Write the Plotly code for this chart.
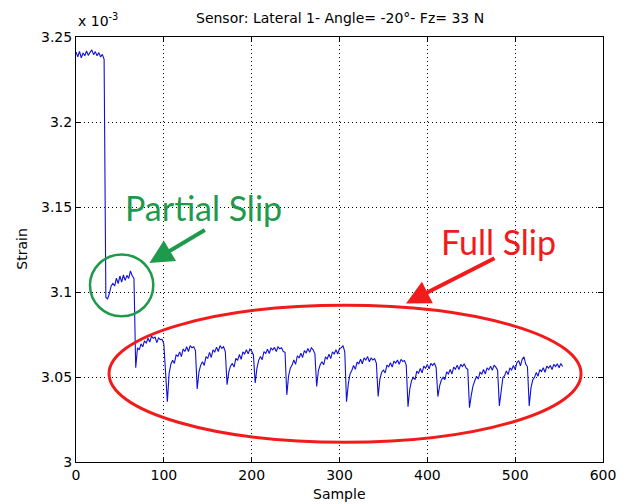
import plotly.graph_objects as go

# ---- data (strain in units of 1e-3) ----
segment_start = [0, 34, 68, 104, 138, 172, 204, 240, 274, 308, 344, 378, 412, 448, 482, 516]
sample_step = 2

strain_hold = [3.2412, 3.2384, 3.2415, 3.2378, 3.2406, 3.2390, 3.2418, 3.2392, 3.2410,
               3.2424, 3.2396, 3.2414, 3.2390, 3.2408, 3.2382, 3.2398, 3.2368]
strain_partial = [3.0968, 3.0960, 3.0990, 3.1036, 3.1050, 3.1035, 3.1082, 3.1050, 3.1094,
                  3.1058, 3.1100, 3.1068, 3.1098, 3.1080, 3.1124, 3.1096, 3.1080]
strain_c1 = [3.0555, 3.0672, 3.0660, 3.0695, 3.0678, 3.0712, 3.0700, 3.0728, 3.0706,
             3.0740, 3.0728, 3.0735, 3.0702, 3.0730, 3.0720, 3.0722, 3.0695, 3.0530]
strain_c2 = [3.0355, 3.0520, 3.0575, 3.0598, 3.0580, 3.0630, 3.0622, 3.0648, 3.0620,
             3.0665, 3.0650, 3.0678, 3.0650, 3.0684, 3.0672, 3.0678, 3.0655]
strain_c3 = [3.0430, 3.0530, 3.0570, 3.0590, 3.0568, 3.0620, 3.0610, 3.0645, 3.0615,
             3.0660, 3.0648, 3.0676, 3.0650, 3.0685, 3.0668, 3.0678, 3.0650]
strain_c4 = [3.0455, 3.0530, 3.0565, 3.0580, 3.0558, 3.0610, 3.0598, 3.0632, 3.0604,
             3.0648, 3.0636, 3.0660, 3.0636, 3.0664, 3.0652, 3.0630]
strain_c5 = [3.0465, 3.0552, 3.0598, 3.0620, 3.0602, 3.0650, 3.0638, 3.0664, 3.0638,
             3.0670, 3.0660, 3.0674, 3.0650, 3.0678, 3.0666, 3.0672, 3.0650, 3.0645]
strain_c6 = [3.0395, 3.0505, 3.0552, 3.0570, 3.0600, 3.0574, 3.0625, 3.0612, 3.0640,
             3.0615, 3.0655, 3.0642, 3.0668, 3.0645, 3.0672, 3.0660, 3.0636]
strain_c7 = [3.0445, 3.0538, 3.0572, 3.0590, 3.0572, 3.0618, 3.0606, 3.0634, 3.0608,
             3.0648, 3.0636, 3.0660, 3.0635, 3.0668, 3.0672, 3.0685, 3.0648]
strain_c8 = [3.0355, 3.0458, 3.0518, 3.0538, 3.0568, 3.0545, 3.0588, 3.0578, 3.0604,
             3.0578, 3.0612, 3.0600, 3.0620, 3.0590, 3.0612, 3.0600, 3.0608, 3.0580]
strain_c9 = [3.0385, 3.0488, 3.0528, 3.0540, 3.0524, 3.0570, 3.0560, 3.0584, 3.0558,
             3.0594, 3.0582, 3.0600, 3.0574, 3.0604, 3.0592, 3.0596, 3.0570]
strain_c10 = [3.0325, 3.0428, 3.0478, 3.0498, 3.0484, 3.0534, 3.0522, 3.0550, 3.0524,
              3.0564, 3.0552, 3.0574, 3.0548, 3.0580, 3.0568, 3.0582, 3.0556]
strain_c11 = [3.0385, 3.0448, 3.0482, 3.0498, 3.0484, 3.0530, 3.0518, 3.0544, 3.0518,
              3.0558, 3.0546, 3.0570, 3.0544, 3.0574, 3.0562, 3.0578, 3.0554, 3.0545]
strain_c12 = [3.0320, 3.0392, 3.0448, 3.0478, 3.0504, 3.0488, 3.0528, 3.0518, 3.0544,
              3.0518, 3.0554, 3.0542, 3.0564, 3.0540, 3.0570, 3.0558, 3.0540]
strain_c13 = [3.0330, 3.0428, 3.0496, 3.0508, 3.0536, 3.0514, 3.0554, 3.0542, 3.0568,
              3.0544, 3.0584, 3.0596, 3.0566, 3.0604, 3.0618, 3.0576, 3.0560]
strain_c14 = [3.0330, 3.0436, 3.0482, 3.0498, 3.0526, 3.0504, 3.0544, 3.0532, 3.0554,
              3.0528, 3.0564, 3.0552, 3.0568, 3.0544, 3.0574, 3.0562, 3.0578, 3.0554,
              3.0580, 3.0562]

segments = [strain_hold, strain_partial, strain_c1, strain_c2, strain_c3, strain_c4,
            strain_c5, strain_c6, strain_c7, strain_c8, strain_c9, strain_c10,
            strain_c11, strain_c12, strain_c13, strain_c14]

x_ticks = [0, 100, 200, 300, 400, 500, 600]
y_ticks = [3.0, 3.05, 3.1, 3.15, 3.2, 3.25]
y_ticktext = ["3", "3.05", "3.1", "3.15", "3.2", "3.25"]

title_text = "Sensor: Lateral 1- Angle= -20°- Fz= 33 N"

sample, strain = [], []
for s0, vals in zip(segment_start, segments):
    for i, v in enumerate(vals):
        sample.append(s0 + sample_step * i)
        strain.append(v)

GREEN = "#1f9a4c"
RED = "#f21b1b"
FONT = "DejaVu Sans"

fig = go.Figure()
fig.add_trace(go.Scatter(x=sample, y=strain, mode="lines",
                         line=dict(color="#1010d8", width=1.1), showlegend=False,
                         hoverinfo="skip"))

axis_common = dict(showline=True, linecolor="black", linewidth=1, mirror="ticks",
                   ticks="inside", ticklen=5, tickcolor="black", automargin=False,
                   showgrid=True, gridcolor="black", gridwidth=1, griddash="1px,3px",
                   zeroline=False, tickfont=dict(family=FONT, size=14, color="black"))

fig.update_xaxes(range=[0, 600], tickvals=x_ticks, **axis_common)
fig.update_yaxes(range=[3.0, 3.25], tickvals=y_ticks, ticktext=y_ticktext, **axis_common)

# circle and ellipse
fig.add_shape(type="circle", xref="x", yref="y", x0=15.9, x1=88.0, y0=3.0857, y1=3.1221,
              line=dict(color=GREEN, width=2.5))
fig.add_shape(type="circle", xref="x", yref="y", x0=37.6, x1=575.0, y0=3.0116, y1=3.0922,
              line=dict(color=RED, width=3))

annos = [
    dict(text=title_text, xref="paper", yref="paper", x=0.5, y=1.045, showarrow=False,
         xanchor="center", yanchor="middle", font=dict(family=FONT, size=14, color="black")),
    dict(text="x 10<sup>-3</sup>", xref="paper", yref="paper", x=0.0, y=1.04, showarrow=False,
         xanchor="left", yanchor="middle", font=dict(family=FONT, size=14, color="black")),
    dict(text="Strain", xref="paper", yref="paper", x=-0.104, y=0.5, showarrow=False,
         textangle=-90, xanchor="center", yanchor="middle",
         font=dict(family=FONT, size=14, color="black")),
    dict(text="Sample", xref="paper", yref="paper", x=0.5, y=-0.075, showarrow=False,
         xanchor="center", yanchor="middle", font=dict(family=FONT, size=14, color="black")),
    dict(text="Partial Slip", xref="paper", yref="paper", x=0.2417, y=0.60, showarrow=False,
         xanchor="center", yanchor="middle", font=dict(family="Lato", size=34, color=GREEN)),
    dict(text="Full Slip", xref="paper", yref="paper", x=0.8008, y=0.518, showarrow=False,
         xanchor="center", yanchor="middle", font=dict(family="Lato", size=34, color=RED)),
    dict(text="", xref="x", yref="y", x=83.5, y=3.117, showarrow=True, ax=57, ay=-34,
         arrowhead=2, arrowsize=1.2, arrowwidth=4, arrowcolor=GREEN, standoff=0),
    dict(text="", xref="x", yref="y", x=375.7, y=3.0933, showarrow=True, ax=90, ay=-46,
         arrowhead=2, arrowsize=1.2, arrowwidth=4, arrowcolor=RED, standoff=0),
]
fig.update_layout(annotations=annos)

fig.update_layout(width=626, height=504, margin=dict(l=76, r=23, t=37, b=42, autoexpand=False),
                  plot_bgcolor="white", paper_bgcolor="white",
                  font=dict(family=FONT, size=14, color="black"))

fig.write_html("out.html", config={"displayModeBar": False},
               post_script="document.body.style.margin='0px';document.body.style.padding='0px';")
